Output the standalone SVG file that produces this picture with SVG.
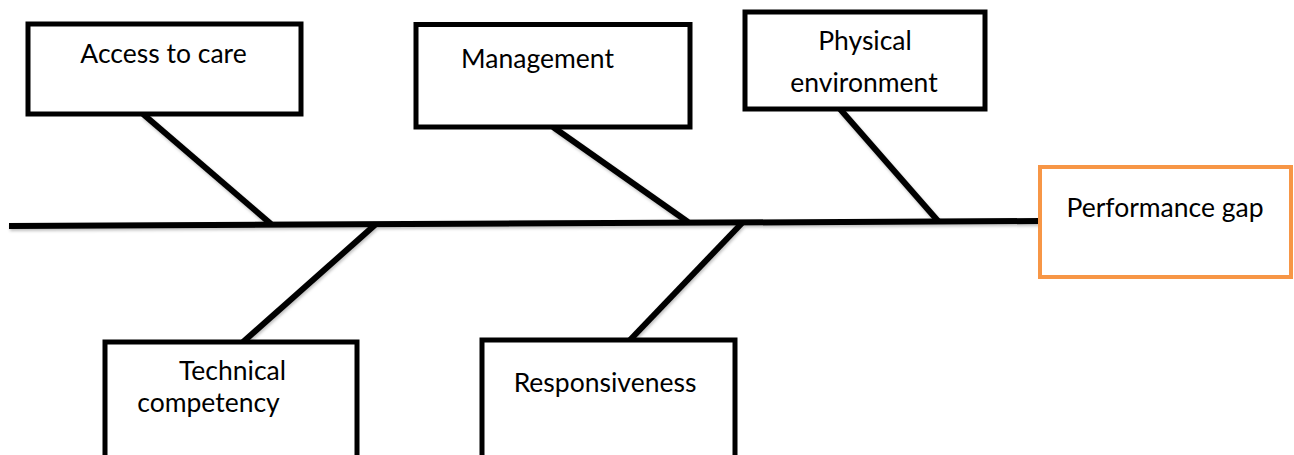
<svg xmlns="http://www.w3.org/2000/svg" width="1294" height="455" viewBox="0 0 1294 455">
<style>
.box{fill:#fff;stroke:#000;stroke-width:5;stroke-linejoin:miter}
.gap{fill:#fff;stroke:#F79646;stroke-width:4}
.lbl{font-family:Lato,"Liberation Sans",sans-serif;font-size:26.5px;fill:#000;text-anchor:middle}
.ln{stroke:#000;stroke-width:6;fill:none;stroke-linecap:butt}
</style>
<defs>
<filter id="sh" x="-5%" y="-5%" width="110%" height="120%">
<feDropShadow dx="1" dy="2" stdDeviation="1.5" flood-color="#000" flood-opacity="0.25"/>
</filter>
</defs>
<rect width="1294" height="455" fill="#fff"/>
<g id="connectors" filter="url(#sh)">
<path class="ln" d="M9 226 L1040 221"/>
<path class="ln" d="M143 114 L271 224"/>
<path class="ln" d="M553 127 L688 222"/>
<path class="ln" d="M840 109 L938 221"/>
<path class="ln" d="M376 224 L243 342"/>
<path class="ln" d="M743 222 L630 340"/>
</g>
<g id="access">
<rect class="box" x="28" y="24" width="273" height="90"/>
<text class="lbl" x="163.5" y="63">Access to care</text>
</g>
<g id="management">
<rect class="box" x="416" y="24.5" width="274" height="102.5"/>
<text class="lbl" x="537.5" y="68">Management</text>
</g>
<g id="physical">
<rect class="box" x="745" y="12" width="240" height="97"/>
<text class="lbl" x="865" y="50">Physical</text>
<text class="lbl" x="864" y="92">environment</text>
</g>
<g id="performance">
<rect class="gap" x="1040" y="167" width="251" height="110"/>
<text class="lbl" x="1165" y="217">Performance gap</text>
</g>
<g id="technical">
<rect class="box" x="105" y="342" width="252" height="130"/>
<text class="lbl" x="232.5" y="380">Technical</text>
<text class="lbl" x="208.5" y="412">competency</text>
</g>
<g id="responsiveness">
<rect class="box" x="482" y="340" width="253" height="130"/>
<text class="lbl" x="605" y="392">Responsiveness</text>
</g>
</svg>
